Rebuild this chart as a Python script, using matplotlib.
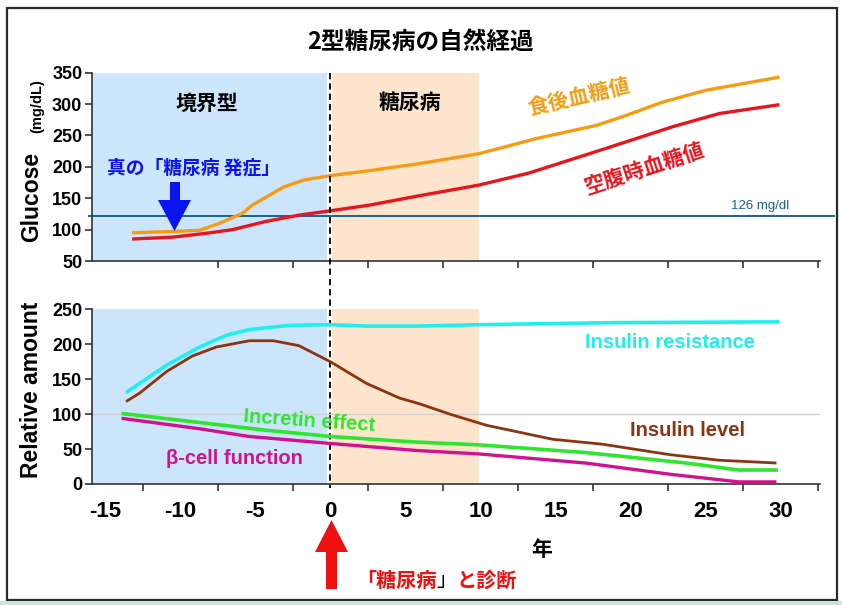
import matplotlib
matplotlib.use("Agg")
import matplotlib.pyplot as plt
import matplotlib.transforms as mtransforms
from matplotlib.patches import Polygon, Rectangle

# --- data (years since diagnosis) ---
post_x = [-13.2, -10.5, -8.7, -7.4, -5.85, -5.2, -3.1, -1.75, 0, 2.6, 5.9, 9.9, 13.7, 17.7, 19.7, 22.1, 25.0, 29.9]
post_y = [95, 97, 99, 110, 126, 139, 168, 179, 186, 194, 205, 221, 245, 266, 282, 303, 322, 343]

fast_x = [-13.2, -10.5, -8.3, -6.5, -4.3, -2.1, 0, 2.6, 5.7, 9.9, 13.2, 17.0, 20.1, 22.8, 25.9, 29.9]
fast_y = [85, 88, 94, 100, 113, 123, 130, 139, 153, 171, 190, 219, 243, 264, 285, 299]

res_x = [-13.6, -10.9, -8.7, -6.9, -5.4, -2.7, 0, 2.4, 5.9, 9.9, 19.2, 29.9]
res_y = [131, 170, 196, 213, 221, 227, 228, 226, 226, 228, 231, 232]

lvl_x = [-13.6, -12.7, -10.9, -9.2, -7.6, -5.4, -3.8, -2.1, 0, 2.4, 4.6, 5.9, 8.1, 10.4, 14.8, 18.1, 22.6, 25.9, 29.7]
lvl_y = [118, 130, 161, 183, 196, 205, 205, 198, 175, 144, 123, 115, 99, 84, 64, 57, 42, 34, 30]

inc_x = [-13.9, -8.7, -4.3, 0, 5.7, 9.9, 17.0, 23.7, 27.2, 29.8]
inc_y = [101, 88, 77, 68, 60, 56, 45, 30, 20, 20]

beta_x = [-13.9, -8.7, -5.4, 0, 5.7, 9.9, 17.0, 22.6, 27.2, 29.7]
beta_y = [94, 79, 68, 58, 48, 43, 30, 14, 3, 3]

year_ticks = [-15, -10, -5, 0, 5, 10, 15, 20, 25, 30]
glu_ticks = [50, 100, 150, 200, 250, 300, 350]
rel_ticks = [0, 50, 100, 150, 200, 250]
threshold = 122
xlim = (-15.87, 32.6)

W, H = 842, 605
JP = ['Noto Sans CJK JP', 'DejaVu Sans']
EN = ['Liberation Sans', 'DejaVu Sans']
plt.rcParams['font.family'] = EN
plt.rcParams['font.weight'] = 'bold'

fig = plt.figure(figsize=(W / 100, H / 100), dpi=100)
fig.patch.set_facecolor('white')


def fx(px):
    return px / W


def fy(py):
    return 1 - py / H


ax1 = fig.add_axes([fx(92), fy(261), fx(820) - fx(92), (261 - 72.7) / H])
ax2 = fig.add_axes([fx(92), fy(484), fx(820) - fx(92), (484 - 309.3) / H])

blue_bg = '#cce5fa'
orange_bg = '#fde4cc'
for ax in (ax1, ax2):
    ax.axvspan(xlim[0], -0.2, color=blue_bg, lw=0, zorder=0)
    ax.axvspan(0.12, 9.9, color=orange_bg, lw=0, zorder=0)
    ax.set_xlim(*xlim)
    for s in ('top', 'right'):
        ax.spines[s].set_visible(False)
    for s in ('left', 'bottom'):
        ax.spines[s].set_color('#333333')
        ax.spines[s].set_linewidth(1.2)
    ax.tick_params(axis='both', direction='out', length=5, width=1.2, color='#333333')
    ax.tick_params(axis='y', labelsize=13, pad=2)
    ax.set_facecolor('none')

# upper panel: glucose
ax1.set_ylim(50, 350)
ax1.set_yticks(glu_ticks)
ax1.set_xticks([-7.5, -2.5, 2.5, 7.5, 12.5, 17.5, 22.5, 27.5, 32.5])
ax1.set_xticklabels([])
ax1.plot(post_x, post_y, color='#f59c14', lw=2.4, solid_capstyle='butt', zorder=3)
ax1.plot(fast_x, fast_y, color='#e8141e', lw=2.4, solid_capstyle='butt', zorder=3)
ax1.plot([-16.07, 33.5], [threshold, threshold], color='#1d6189', lw=1.4, clip_on=False, zorder=2)
ax1.text(28.6, 137, '126 mg/dl', color='#1d6189', fontsize=9.5, fontweight='normal',
         ha='center', va='center', family=EN)

ax1.text(-8.2, 302, '境界型', family=JP, fontsize=15, fontweight='bold', ha='center', va='center')
ax1.text(5.3, 302, '糖尿病', family=JP, fontsize=15, fontweight='bold', ha='center', va='center')
ax1.text(16.6, 310, '食後血糖値', family=JP, fontsize=15, fontweight='bold', color='#f59c14',
         ha='center', va='center', rotation=13)
ax1.text(20.9, 198, '空腹時血糖値', family=JP, fontsize=15, fontweight='bold', color='#e8141e',
         ha='center', va='center', rotation=18)
ax1.text(-9.1, 198, '真の「糖尿病 発症」', family=JP, fontsize=13.5, fontweight='bold', color='#0a14f0',
         ha='center', va='center')

# lower panel: relative amount
ax2.set_ylim(0, 250)
ax2.set_yticks(rel_ticks)
ax2.set_xticks([-12.5, -7.5, -2.5, 2.5, 7.5, 12.5, 17.5, 22.5, 27.5, 32.5])
ax2.set_xticklabels([])
ax2.set_xticks(year_ticks, minor=True)
ax2.set_xticklabels([str(t) for t in year_ticks], minor=True, fontsize=16, fontweight='bold')
ax2.tick_params(axis='x', which='minor', length=0, pad=12)
ax2.axhline(100, color='#d0d0d0', lw=1.0, zorder=1)
ax2.plot(res_x, res_y, color='#1ef0f0', lw=2.6, solid_capstyle='butt', zorder=3)
ax2.plot(lvl_x, lvl_y, color='#8c3410', lw=2.0, solid_capstyle='butt', zorder=3)
ax2.plot(inc_x, inc_y, color='#2ee62e', lw=2.6, solid_capstyle='butt', zorder=3)
ax2.plot(beta_x, beta_y, color='#d0128e', lw=2.4, solid_capstyle='butt', zorder=3)

ax2.text(22.6, 203, 'Insulin resistance', color='#1ef0f0', fontsize=14.5, ha='center', va='center')
ax2.text(23.8, 77, 'Insulin level', color='#8c3410', fontsize=14.5, ha='center', va='center')
ax2.text(-1.4, 90, 'Incretin effect', color='#2ee62e', fontsize=14.5, ha='center', va='center', rotation=-4)
ax2.text(-6.4, 37, 'β-cell function', color='#d0128e', fontsize=14.5, ha='center', va='center')

# dashed line at diagnosis across both panels
trans = mtransforms.blended_transform_factory(ax1.transData, ax1.transAxes)
ax1.plot([-0.05, -0.05], [1, -(488 - 261) / (261 - 72.7)], transform=trans, color='black',
         lw=1.3, ls=(0, (3.5, 2.2)), clip_on=False, zorder=5)

# axis labels and title
fig.text(fx(421), fy(42), '2型糖尿病の自然経過', family=JP, fontsize=17, fontweight='bold',
         ha='center', va='center')
fig.text(fx(32), fy(197), 'Glucose', fontsize=16.5, rotation=90, ha='center', va='center')
fig.text(fx(37), fy(106), '(mg/dL)', fontsize=10.5, rotation=90, ha='center', va='center')
fig.text(fx(32), fy(390), 'Relative amount', fontsize=16.5, rotation=90, ha='center', va='center')
fig.text(fx(542), fy(549), '年', family=JP, fontsize=15, fontweight='bold', ha='center', va='center')

# diagnosis caption: red text with a thin black closing bracket
renderer = fig.canvas.get_renderer()
cx = fx(356)
pieces = [('「糖尿病', '#f01010', 'bold'), ('」', 'black', 'normal'), ('と診断', '#f01010', 'bold')]
for txt, col, wt in pieces:
    t = fig.text(cx, fy(580), txt, family=JP, fontsize=14.5, fontweight=wt, color=col,
                 ha='left', va='center')
    bb = t.get_window_extent(renderer=renderer)
    cx = bb.x1 / W

# arrows
blue_arrow = [(170, 182), (180, 182), (180, 200), (191, 200), (174.5, 231), (158, 200), (170, 200)]
red_arrow = [(326, 589), (337, 589), (337, 552), (348, 552), (331.5, 520), (315, 552), (326, 552)]
fig.patches.append(Polygon([(fx(x), fy(y)) for x, y in blue_arrow], closed=True,
                           transform=fig.transFigure, color='#0a14f0', lw=0))
fig.patches.append(Polygon([(fx(x), fy(y)) for x, y in red_arrow], closed=True,
                           transform=fig.transFigure, color='#f01010', lw=0))

# frame
fig.patches.append(Rectangle((fx(7), fy(600)), fx(837) - fx(7), (600 - 8) / H, transform=fig.transFigure,
                             fill=False, edgecolor='#2a2a2a', lw=1.6))
fig.patches.append(Rectangle((0, 0), 1, 4 / H, transform=fig.transFigure, color='#c6e6d6', lw=0))

fig.savefig('out.png', dpi=100)
